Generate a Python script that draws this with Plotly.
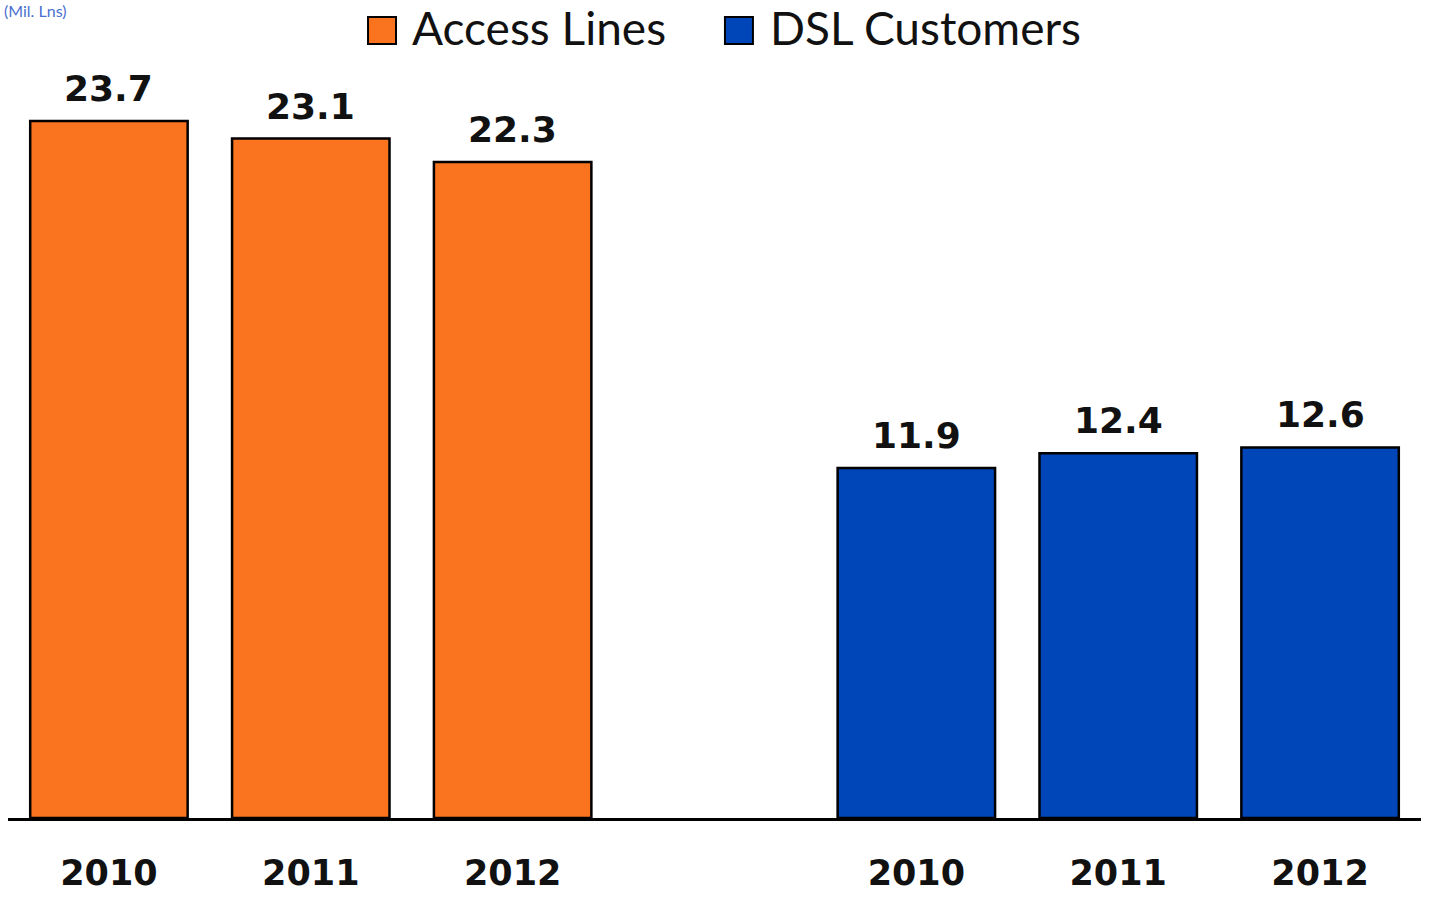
import plotly.graph_objects as go

# Millions of access lines and DSL customers by year
years = ["2010", "2011", "2012"]
access_lines = [23.7, 23.1, 22.3]
dsl_customers = [11.9, 12.4, 12.6]

# Category slots on the x axis: one empty slot separates the two groups
access_pos = [0, 1, 2]
dsl_pos = [4, 5, 6]

ORANGE = "#FA731E"
BLUE = "#0046B9"
LABEL_FONT = dict(family="DejaVu Sans", size=36, color="#111111", weight="bold")

fig = go.Figure()
fig.add_trace(go.Bar(
    x=access_pos, y=access_lines, name="Access Lines", width=0.78,
    marker=dict(color=ORANGE, line=dict(color="#000000", width=2.5)),
    showlegend=False,
))
fig.add_trace(go.Bar(
    x=dsl_pos, y=dsl_customers, name="DSL Customers", width=0.78,
    marker=dict(color=BLUE, line=dict(color="#000000", width=2.5)),
    showlegend=False,
))

# Value labels above each bar
annotations = []
for xs, ys in ((access_pos, access_lines), (dsl_pos, dsl_customers)):
    for x, y in zip(xs, ys):
        annotations.append(dict(
            x=x, y=y, xref="x", yref="y", text=f"{y:.1f}", showarrow=False,
            yanchor="bottom", yshift=10, font=LABEL_FONT,
        ))

# Hand-drawn legend across the top
legend_items = [("Access Lines", ORANGE, 0.2548, 0.2845), ("DSL Customers", BLUE, 0.5074, 0.5379)]
shapes = []
for label, color, sx, tx in legend_items:
    shapes.append(dict(
        type="rect", xref="paper", yref="paper",
        x0=sx, x1=sx + 0.0198, y0=1.0211, y1=1.0567,
        fillcolor=color, line=dict(color="#000000", width=2),
    ))
    annotations.append(dict(
        x=tx, y=1.0435, xref="paper", yref="paper", text=label, showarrow=False,
        xanchor="left", yanchor="middle",
        font=dict(family="Lato", size=46, color="#111111"),
    ))

# Units note at the top-left corner
annotations.append(dict(
    x=0, y=1, xref="paper", yref="paper", text="(Mil. Lns)", showarrow=False,
    xanchor="left", yanchor="bottom", xshift=-6, yshift=38,
    font=dict(family="Lato", size=16, color="#4A6FD0"),
))

fig.update_layout(
    width=1429, height=898,
    margin=dict(l=8, r=8, t=60, b=80),
    paper_bgcolor="white", plot_bgcolor="white",
    barmode="overlay",
    annotations=annotations,
    shapes=shapes,
    xaxis=dict(
        range=[-0.5, 6.5],
        tickvals=access_pos + dsl_pos,
        ticktext=years + years,
        tickfont=dict(family="DejaVu Sans", size=35, color="#111111", weight="bold"),
        ticks="", ticklabelstandoff=22, automargin=False,
        showline=True, linecolor="#000000", linewidth=3,
        showgrid=False, zeroline=False, fixedrange=True,
    ),
    yaxis=dict(
        range=[0, 25.77], visible=False, showgrid=False, zeroline=False,
        automargin=False,
    ),
)

fig.write_html("out.html")
